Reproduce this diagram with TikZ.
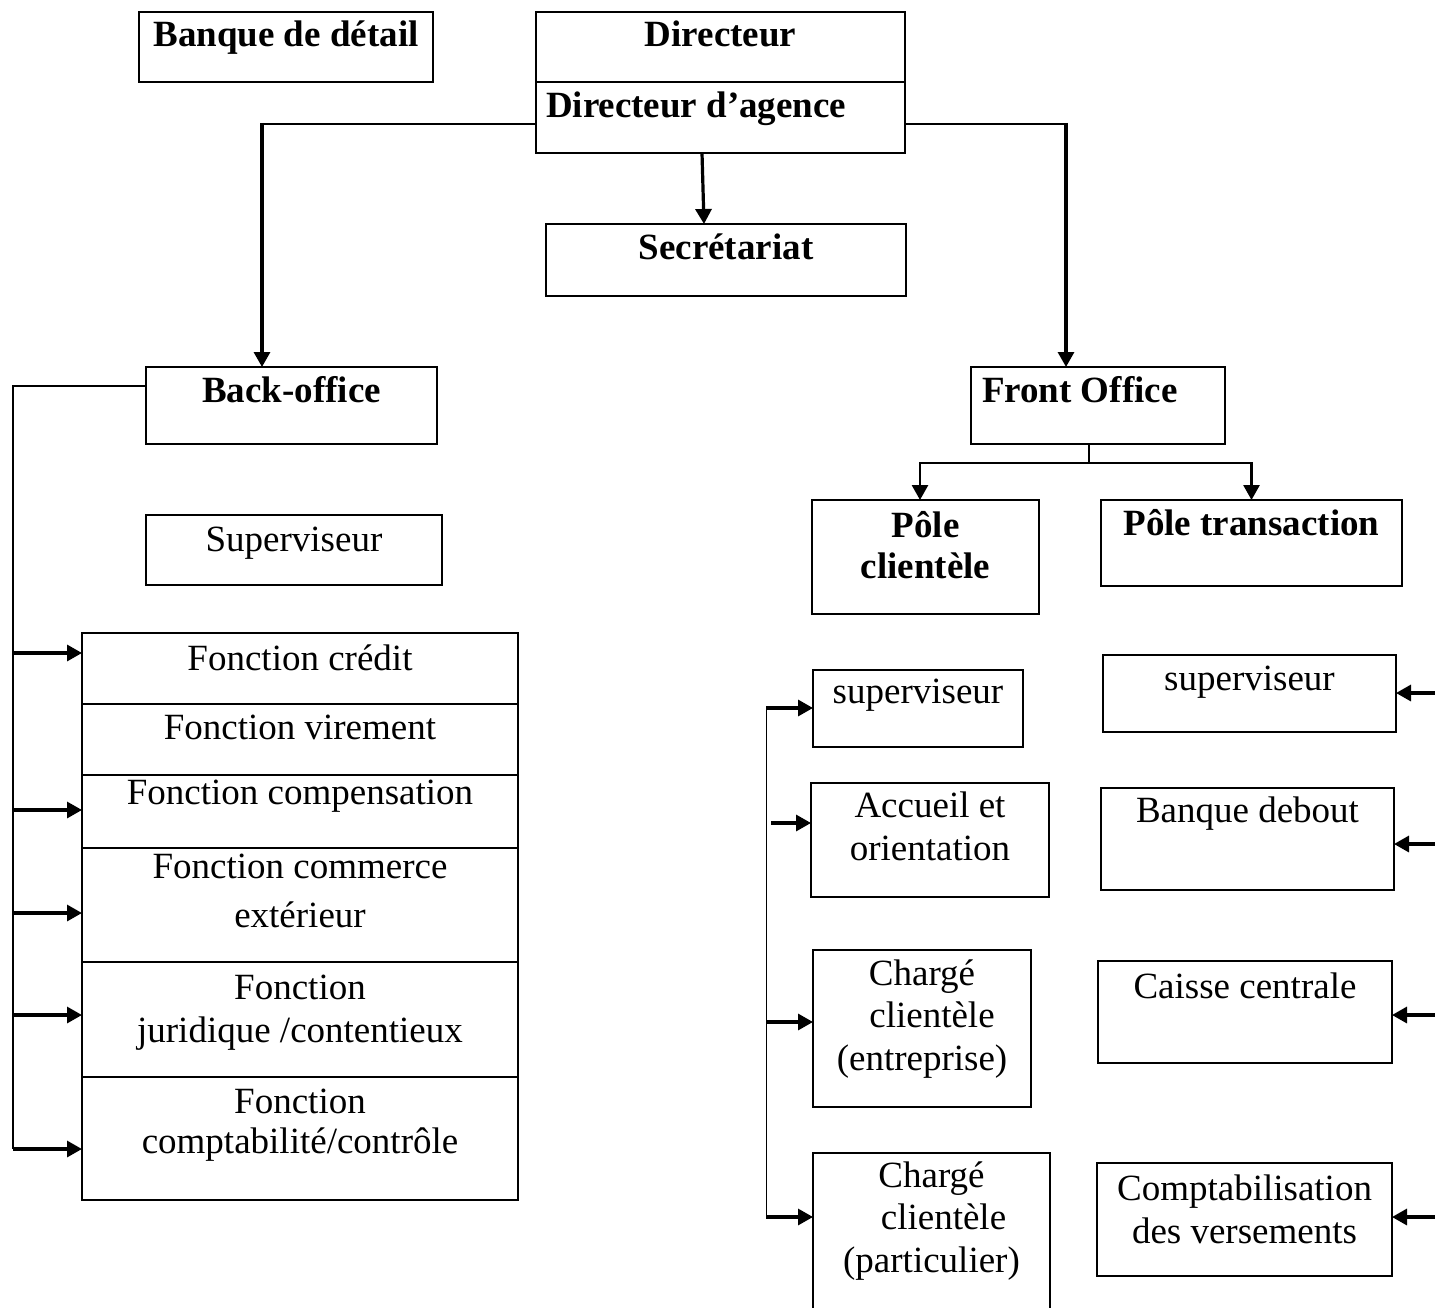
\documentclass[tikz,border=0pt]{standalone}
\usepackage{fontspec}
\setmainfont{Liberation Serif}
\usetikzlibrary{arrows.meta}

% Box contents: width, height, first baseline (from top), line spacing, alignment, text
\newcommand\boxbody[6]{%
  \parbox[c][#2pt][t]{#1pt}{\fontsize{37pt}{#4pt}\selectfont#5%
    \vspace*{\dimexpr#3pt-\ht\strutbox\relax}\strut#6}}

\begin{document}
\begin{tikzpicture}[x=1pt,y=-1pt,
  box/.style={draw,line width=2.3pt,inner sep=0pt,outer sep=0pt,anchor=north west},
  head/.style={box,font=\bfseries},
  arr/.style={-{Triangle[length=15pt,width=16pt]},line width=3.2pt},
  hline/.style={line width=2pt,line cap=rect},
  bus/.style={line width=2.2pt},
  thinbus/.style={line width=1pt},
  stem/.style={line width=1.5pt}]

\useasboundingbox (0,0) rectangle (1435,1308);
\fill[white] (0,0) rectangle (1435,1308);

% ---- top level
\node[head] (banque) at (139,12) {\boxbody{294}{70}{35}{43}{\centering}{Banque de détail}};
\node[head] (dirtop) at (536,12) {\boxbody{369}{70}{35}{43}{\centering}{Directeur}};
\node[head] (dirag) at (536,82) {\boxbody{369}{71}{36}{43}{\raggedright}{\hspace*{10pt}Directeur d’agence}};
\node[head] (secretariat) at (546,224) {\boxbody{360}{72}{35}{43}{\centering}{Secrétariat}};

% ---- back office
\node[head] (backoffice) at (146,367) {\boxbody{291}{77}{35}{43}{\centering}{Back-office}};
\node[box] (superv) at (146,515) {\boxbody{296}{70}{36}{43}{\centering}{Superviseur}};
\node[box] (fcredit) at (82,633) {\boxbody{436}{71}{37}{43}{\centering}{Fonction crédit}};
\node[box] (fvirement) at (82,704) {\boxbody{436}{71}{35}{43}{\centering}{Fonction virement}};
\node[box] (fcompens) at (82,775) {\boxbody{436}{73}{29}{43}{\centering}{Fonction compensation}};
\node[box] (fcommerce) at (82,848) {\boxbody{436}{114}{30}{43}{\centering}{Fonction commerce\\[6pt]extérieur}};
\node[box] (fjurid) at (82,962) {\boxbody{436}{115}{37}{43}{\centering}{Fonction\\juridique /contentieux}};
\node[box] (fcompta) at (82,1077) {\boxbody{436}{123}{36}{40}{\centering}{Fonction\\comptabilité/contrôle}};

% ---- front office
\node[head] (frontoffice) at (971,367) {\boxbody{254}{77}{35}{43}{\raggedright}{\hspace*{11pt}Front Office}};
\node[head] (poleclient) at (812,500) {\boxbody{227}{114}{37}{41}{\centering}{Pôle\\clientèle}};
\node[head] (poletrans) at (1101,500) {\boxbody{301}{86}{35}{43}{\centering}{Pôle transaction}};

\node[box] (supcl) at (813,670) {\boxbody{210}{77}{33}{43}{\centering}{superviseur}};
\node[box] (accueil) at (811,783) {\boxbody{238}{114}{34}{43}{\centering}{Accueil et\\orientation}};
\node[box] (chent) at (813,950) {\boxbody{218}{157}{35}{42.5}{\centering}{Chargé\\\hspace*{20pt}clientèle\\(entreprise)}};
\node[box] (chpart) at (813,1153) {\boxbody{237}{165}{34}{42.5}{\centering}{Chargé\\\hspace*{24pt}clientèle\\(particulier)}};

\node[box] (suptr) at (1103,655) {\boxbody{293}{77}{35}{43}{\centering}{superviseur}};
\node[box] (debout) at (1101,788) {\boxbody{293}{102}{34}{43}{\centering}{Banque debout}};
\node[box] (caisse) at (1098,961) {\boxbody{294}{102}{37}{43}{\centering}{Caisse centrale}};
\node[box] (compta) at (1097,1163) {\boxbody{295}{113}{37}{43}{\centering}{Comptabilisation\\des versements}};

% ---- connectors from the director
\coordinate (boturn) at (262,124);
\coordinate (foturn) at (1066,124);
\draw[hline] (dirag.west |- boturn) -- (boturn);
\draw[arr,shorten <=-1.2pt] (boturn) -- (backoffice.north -| boturn);
\draw[hline] (dirag.east |- foturn) -- (foturn);
\draw[arr,shorten <=-1.2pt] (foturn) -- (frontoffice.north -| foturn);
\draw[arr] (dirag.south -| 702,0) -- (secretariat.north -| 704,0);

% ---- back-office bus
\coordinate (bobus) at (13,0);
\draw[bus] (backoffice.west |- 0,386) -| (bobus |- 0,1149);
\foreach \n/\yy in {fcredit/653, fcompens/810, fcommerce/913, fjurid/1015, fcompta/1149}
  \draw[arr] (bobus |- 0,\yy) -- (\n.west |- 0,\yy);

% ---- front office split
\coordinate (fofork) at (1089,463);
\draw[stem] (frontoffice.south -| fofork) -- (fofork);
\draw[arr,line width=2.8pt] (fofork) -| (poleclient.north -| 920,0);
\draw[arr,line width=2.8pt] (fofork) -| (poletrans.north);

% ---- clientele bus
\coordinate (clbus) at (766,0);
\draw[thinbus] (clbus |- 0,708) -- (clbus |- 0,1217);
\draw[arr] (clbus |- 0,708) -- (supcl.west |- 0,708);
\draw[arr] (771,823) -- (accueil.west |- 0,823);
\draw[arr] (clbus |- 0,1022) -- (chent.west |- 0,1022);
\draw[arr] (clbus |- 0,1217) -- (chpart.west |- 0,1217);

% ---- transaction arrows coming from the right edge
\coordinate (trbus) at (1435,0);
\foreach \n/\yy in {suptr/693, debout/844, caisse/1015, compta/1217}
  \draw[arr] (trbus |- 0,\yy) -- (\n.east |- 0,\yy);

\end{tikzpicture}
\end{document}
